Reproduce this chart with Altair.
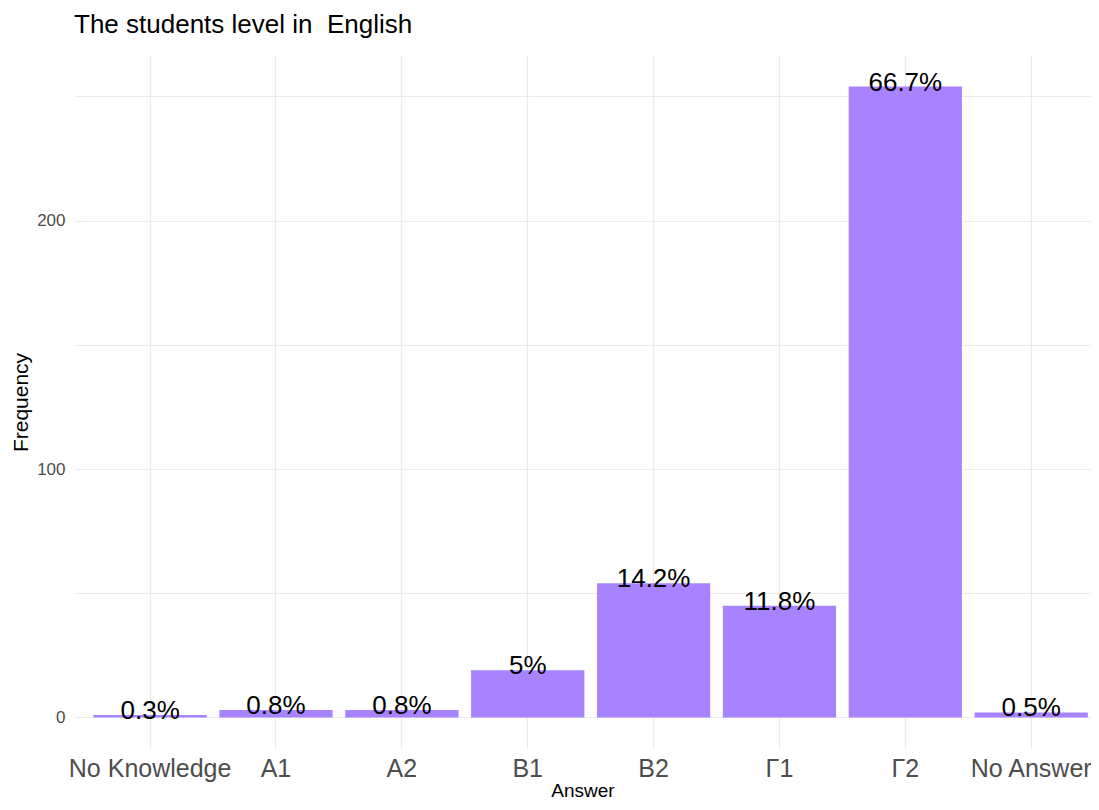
import altair as alt
import pandas as pd

categories = ["No Knowledge", "A1", "A2", "B1", "B2", "Γ1", "Γ2", "No Answer"]
frequency = [1, 3, 3, 19, 54, 45, 254, 2]
percent_labels = ["0.3%", "0.8%", "0.8%", "5%", "14.2%", "11.8%", "66.7%", "0.5%"]

df = pd.DataFrame({"Answer": categories, "Frequency": frequency, "label": percent_labels})

FONT = "Liberation Sans"

x_enc = alt.X(
    "Answer:N",
    sort=categories,
    title="Answer",
    scale=alt.Scale(paddingInner=0.1, paddingOuter=0.09, align=0.86),
    axis=alt.Axis(
        labelAngle=0, labelFontSize=25, labelColor="#4d4d4d", labelFont=FONT,
        labelPadding=7, ticks=False, domain=False,
        grid=True, gridColor="#ebebeb", gridWidth=1.2, bandPosition=0.5,
        titleFontSize=19, titleFont=FONT, titleFontWeight="normal", titleColor="black",
        titlePadding=0,
    ),
)

y_enc = alt.Y(
    "Frequency:Q",
    title="Frequency",
    scale=alt.Scale(domain=[-12.7, 266.7], nice=False, zero=False),
    axis=alt.Axis(
        values=[0, 50, 100, 150, 200, 250],
        labelExpr="datum.value % 100 == 0 ? datum.label : ''",
        labelFontSize=17, labelColor="#4d4d4d", labelFont=FONT, labelPadding=9,
        ticks=False, domain=False, grid=True, gridColor="#ebebeb", gridWidth=1.2,
        titleFontSize=21, titleFont=FONT, titleFontWeight="normal", titleColor="black",
        titlePadding=5,
    ),
)

bars = alt.Chart(df).mark_bar(color="#a883ff").encode(
    x=x_enc,
    y=y_enc,
    y2=alt.datum(0),
)

labels = alt.Chart(df).mark_text(
    fontSize=26, font=FONT, color="black", baseline="middle", dy=-4
).encode(
    x=alt.X("Answer:N", sort=categories),
    y=alt.Y("Frequency:Q"),
    text="label:N",
)

chart = (
    alt.layer(bars, labels)
    .properties(
        width=1017,
        height=694,
        autosize=alt.AutoSizeParams(type="none"),
        padding={"left": 66, "top": 47, "right": 0, "bottom": 52},
        view=alt.ViewBackground(stroke="transparent", strokeWidth=0),
        title=alt.TitleParams(
            "The students level in \u00a0English",
            anchor="start", frame="group", fontSize=26, font=FONT,
            fontWeight="normal", color="black", baseline="alphabetic", offset=-4,
        ),
    )
    .configure_view(stroke="transparent", strokeWidth=0)
    .configure(background="white")
)

chart.save("out.html", embed_options={"renderer": "svg", "actions": False})
